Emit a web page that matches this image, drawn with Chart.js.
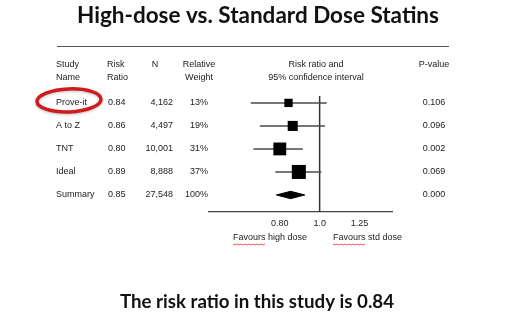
<!DOCTYPE html>
<html>
<head>
<meta charset="utf-8">
<script src="https://cdn.jsdelivr.net/npm/chart.js@4.4.1/dist/chart.umd.min.js"></script>
<style>
  body { margin: 0; background: #fff; }
  #wrap { width: 520px; height: 324px; }
</style>
</head>
<body>
<div id="wrap"><canvas id="forest" width="520" height="324"></canvas></div>
<script>
// data
const studies = ['Prove-it', 'A to Z', 'TNT', 'Ideal', 'Summary'];
const riskRatio = [0.84, 0.86, 0.80, 0.89, 0.85];
const patients = [4162, 4497, 10001, 8888, 27548];
const weights = [13, 19, 31, 37, 100];
const ciLower = [0.68, 0.715, 0.69, 0.78, 0.785];
const ciUpper = [1.04, 1.03, 0.91, 1.01, 0.92];
const pValues = [0.106, 0.096, 0.002, 0.069, 0.000];
const tickValues = [0.8, 1.0, 1.25];
const tickLabels = ['0.80', '1.0', '1.25'];

const nStudies = 4; // last row is the pooled summary
const summary = 4;

// datasets: squares first so they sit on top of the CI lines
var datasets = [];
datasets.push({
  label: 'estimate',
  data: riskRatio.slice(0, nStudies).map((v, i) => ({x: v, y: i})),
  pointStyle: 'rect',
  pointRadius: weights.slice(0, nStudies).map(w => 1.63 * Math.sqrt(w)),
  backgroundColor: '#000',
  borderWidth: 0
});
for (let i = 0; i < nStudies; i++) {
  datasets.push({
    label: 'ci ' + studies[i],
    data: [{x: ciLower[i], y: i}, {x: ciUpper[i], y: i}],
    showLine: true,
    borderColor: '#4a4a4a',
    borderWidth: 1.5,
    pointRadius: 0
  });
}
// summary diamond, upper half filled down to lower half
datasets.push({
  label: 'diamond top',
  data: [{x: ciLower[summary], y: summary}, {x: riskRatio[summary], y: summary - 0.16}, {x: ciUpper[summary], y: summary}],
  showLine: true, borderColor: '#000', borderWidth: 1, pointRadius: 0,
  backgroundColor: '#000', fill: '+1'
});
datasets.push({
  label: 'diamond bottom',
  data: [{x: ciLower[summary], y: summary}, {x: riskRatio[summary], y: summary + 0.16}, {x: ciUpper[summary], y: summary}],
  showLine: true, borderColor: '#000', borderWidth: 1, pointRadius: 0, fill: false
});
// line of no effect
datasets.push({
  label: 'no effect',
  data: [{x: 1, y: -0.3}, {x: 1, y: 4.74}],
  showLine: true, borderColor: '#333', borderWidth: 1.5, pointRadius: 0
});

const slideText = {
  id: 'slideText',
  afterDraw(chart) {
    const c = chart.ctx;
    const y = chart.scales.y;
    c.save();
    c.fillStyle = '#111';
    c.textBaseline = 'middle';

    // title
    c.font = 'bold 22.5px Lato';
    c.textAlign = 'center';
    c.fillText('High-dose vs. Standard Dose Statins', 258, 16);

    // rule under the title
    c.strokeStyle = '#555';
    c.lineWidth = 1.2;
    c.beginPath(); c.moveTo(57, 46.5); c.lineTo(449, 46.5); c.stroke();

    // column headers
    c.font = '9px "Liberation Sans"';
    c.fillStyle = '#222';
    c.textAlign = 'left';
    c.fillText('Study', 56, 65); c.fillText('Name', 56, 78);
    c.fillText('Risk', 107, 65); c.fillText('Ratio', 107, 78);
    c.textAlign = 'center';
    c.fillText('N', 155, 65);
    c.fillText('Relative', 199, 65); c.fillText('Weight', 199, 78);
    c.fillText('Risk ratio and', 316, 65);
    c.fillText('95% confidence interval', 316, 78);
    c.fillText('P-value', 434, 65);

    // rows
    studies.forEach((s, i) => {
      const py = y.getPixelForValue(i);
      c.textAlign = 'left';
      c.fillText(s, 56, py);
      c.fillText(riskRatio[i].toFixed(2), 108, py);
      c.textAlign = 'right';
      c.fillText(patients[i].toLocaleString('en-US'), 173, py);
      c.fillText(weights[i] + '%', 208, py);
      c.textAlign = 'center';
      c.fillText(pValues[i].toFixed(3), 434, py);
    });

    // favours labels
    const by = chart.chartArea.bottom + 26;
    c.textAlign = 'left';
    c.fillText('Favours high dose', 233, by);
    c.fillText('Favours std dose', 333, by);
    c.strokeStyle = '#d33';
    c.lineWidth = 0.8;
    [233, 333].forEach(x0 => {
      const w = c.measureText('Favours').width;
      c.beginPath();
      for (let k = 0; k <= w; k += 2) c.lineTo(x0 + k, by + 6 + (k % 4 ? 1 : 0));
      c.stroke();
    });

    // red ellipse around the first study
    c.strokeStyle = '#cf1b1b';
    c.lineWidth = 3.5;
    c.shadowColor = 'rgba(0,0,0,0.25)';
    c.shadowBlur = 3;
    c.shadowOffsetY = 1;
    c.beginPath();
    c.ellipse(69, y.getPixelForValue(0) - 2.5, 32, 11.5, -0.04, 0, Math.PI * 2);
    c.stroke();
    c.shadowColor = 'transparent';

    // caption
    c.fillStyle = '#111';
    c.font = 'bold 18.7px Lato';
    c.textAlign = 'center';
    c.fillText('The risk ratio in this study is 0.84', 257, 302);
    c.restore();
  }
};

new Chart(document.getElementById('forest'), {
  type: 'scatter',
  data: { datasets: datasets },
  plugins: [slideText],
  options: {
    responsive: false,
    animation: false,
    events: [],
    layout: { padding: { left: 209, right: 128, top: 96, bottom: 92 } },
    plugins: {
      legend: { display: false },
      tooltip: { enabled: false }
    },
    scales: {
      x: {
        type: 'logarithmic',
        min: 0.538,
        max: 1.5,
        grid: { display: false, drawTicks: false },
        border: { display: true, color: '#444', width: 1.2 },
        afterBuildTicks: s => { s.ticks = tickValues.map(v => ({value: v})); },
        afterFit: s => { s.height = 20; },
        ticks: {
          autoSkip: false,
          maxRotation: 0,
          padding: 6,
          color: '#222',
          font: { family: 'Liberation Sans', size: 9 },
          callback: v => tickLabels[tickValues.indexOf(v)]
        }
      },
      y: { type: 'linear', reverse: true, min: -0.3, max: 4.74, display: false }
    }
  }
});
</script>
</body>
</html>
